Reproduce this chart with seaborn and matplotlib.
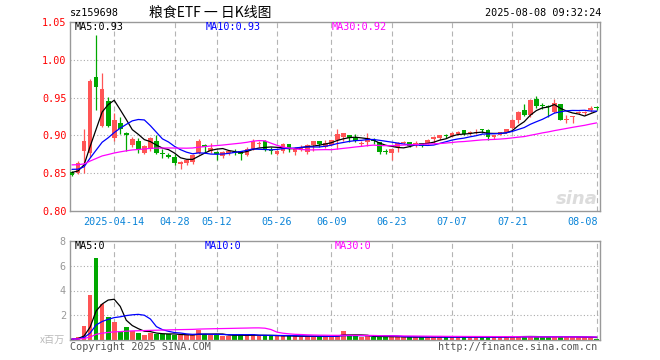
import numpy as np
import pandas as pd
import matplotlib
matplotlib.use('Agg')
import matplotlib.pyplot as plt
import matplotlib.transforms as mtransforms
import seaborn as sns

# ---------------- data ----------------
open_ = [0.852, 0.850, 0.880, 0.877, 0.9776, 0.913, 0.946, 0.896, 0.916, 0.903,
         0.887, 0.893, 0.877, 0.882, 0.893, 0.877, 0.874, 0.872, 0.862, 0.864,
         0.865, 0.877, 0.887, 0.879, 0.878, 0.873, 0.877, 0.878, 0.879, 0.874,
         0.8825, 0.888, 0.893, 0.880, 0.876, 0.8794, 0.888, 0.878, 0.881, 0.878,
         0.8877, 0.892, 0.8846, 0.887, 0.894, 0.8978, 0.901, 0.897, 0.888, 0.891,
         0.894, 0.891, 0.879, 0.877, 0.884, 0.890, 0.8908, 0.8873, 0.890, 0.8904,
         0.8947, 0.896, 0.8993, 0.8991, 0.9018, 0.907, 0.9033, 0.9026, 0.9072, 0.907,
         0.8974, 0.9004, 0.9039, 0.9092, 0.921, 0.9333, 0.9268, 0.9478, 0.9390, 0.9380,
         0.9311, 0.9421, 0.9208, 0.9237, 0.9295, 0.9295, 0.9333, 0.9370]
high = [0.853, 0.866, 0.909, 0.975, 1.033, 0.983, 0.951, 0.930, 0.924, 0.905,
        0.898, 0.897, 0.887, 0.898, 0.900, 0.882, 0.877, 0.876, 0.866, 0.869,
        0.876, 0.895, 0.888, 0.890, 0.879, 0.879, 0.881, 0.882, 0.880, 0.884,
        0.8956, 0.892, 0.8934, 0.884, 0.881, 0.890, 0.888, 0.885, 0.887, 0.888,
        0.892, 0.892, 0.894, 0.894, 0.908, 0.903, 0.901, 0.902, 0.893, 0.9035,
        0.897, 0.891, 0.882, 0.8816, 0.8917, 0.8925, 0.8908, 0.893, 0.890, 0.895,
        0.8996, 0.9004, 0.9018, 0.9048, 0.906, 0.907, 0.906, 0.908, 0.909, 0.9079,
        0.9004, 0.904, 0.909, 0.922, 0.932, 0.942, 0.9478, 0.952, 0.943, 0.940,
        0.9478, 0.9421, 0.9268, 0.926, 0.9325, 0.9325, 0.9386, 0.939]
low = [0.846, 0.849, 0.850, 0.872, 0.933, 0.911, 0.911, 0.893, 0.902, 0.880,
       0.885, 0.877, 0.875, 0.880, 0.875, 0.870, 0.870, 0.861, 0.856, 0.861,
       0.862, 0.876, 0.877, 0.877, 0.867, 0.870, 0.874, 0.874, 0.867, 0.873,
       0.881, 0.885, 0.880, 0.876, 0.874, 0.877, 0.878, 0.8737, 0.879, 0.876,
       0.880, 0.885, 0.883, 0.886, 0.8816, 0.8925, 0.891, 0.8915, 0.8855, 0.8855,
       0.889, 0.876, 0.875, 0.8675, 0.8785, 0.888, 0.884, 0.885, 0.885, 0.888,
       0.8895, 0.8939, 0.896, 0.8974, 0.900, 0.9005, 0.901, 0.9018, 0.9035, 0.8939,
       0.8948, 0.900, 0.903, 0.908, 0.9158, 0.9254, 0.9246, 0.9368, 0.9355, 0.9237,
       0.929, 0.920, 0.9158, 0.9158, 0.928, 0.9268, 0.931, 0.934]
close = [0.848, 0.864, 0.892, 0.972, 0.9645, 0.962, 0.913, 0.921, 0.909, 0.900,
         0.895, 0.882, 0.886, 0.896, 0.877, 0.875, 0.872, 0.863, 0.865, 0.867,
         0.874, 0.893, 0.884, 0.883, 0.875, 0.878, 0.880, 0.877, 0.876, 0.8825,
         0.892, 0.889, 0.881, 0.879, 0.880, 0.889, 0.8825, 0.8825, 0.885, 0.887,
         0.892, 0.889, 0.890, 0.8934, 0.902, 0.903, 0.897, 0.8925, 0.889, 0.897,
         0.893, 0.878, 0.878, 0.8816, 0.8895, 0.8905, 0.8864, 0.8904, 0.886, 0.8939,
         0.8985, 0.900, 0.8990, 0.9035, 0.9048, 0.9013, 0.9037, 0.9048, 0.9068, 0.8974,
         0.9004, 0.9039, 0.908, 0.921, 0.9311, 0.9268, 0.9465, 0.9386, 0.9386, 0.9375,
         0.943, 0.921, 0.9212, 0.9259, 0.930, 0.930, 0.9368, 0.9366]
volume = [0.10, 0.22, 1.14, 3.62, 6.65, 2.90, 1.83, 1.46, 0.74, 1.06,
          0.74, 0.58, 0.43, 0.58, 0.48, 0.48, 0.48, 0.43, 0.37, 0.37,
          0.37, 0.77, 0.48, 0.40, 0.42, 0.35, 0.35, 0.40, 0.40, 0.35,
          0.45, 0.30, 0.40, 0.35, 0.30, 0.32, 0.30, 0.30, 0.28, 0.30,
          0.30, 0.28, 0.28, 0.30, 0.43, 0.74, 0.30, 0.30, 0.28, 0.30,
          0.25, 0.30, 0.25, 0.25, 0.27, 0.22, 0.24, 0.22, 0.23, 0.24,
          0.25, 0.24, 0.22, 0.25, 0.24, 0.23, 0.22, 0.24, 0.22, 0.25,
          0.22, 0.25, 0.28, 0.30, 0.30, 0.26, 0.28, 0.25, 0.24, 0.27,
          0.30, 0.26, 0.24, 0.22, 0.22, 0.21, 0.22, 0.12]
# closes / volumes of the 29 sessions before the window (inferred from MA lines)
pre_close = [0.858, 0.861, 0.859, 0.862, 0.860, 0.857, 0.861, 0.863, 0.860, 0.859,
             0.864, 0.867, 0.870, 0.868, 0.872, 0.869, 0.866, 0.868, 0.870, 0.866,
             0.862, 0.860, 0.858, 0.859, 0.857, 0.854, 0.852, 0.851, 0.850]
pre_volume = [0.09, 0.07, 0.08, 0.10, 0.08, 0.07, 0.09, 0.08, 0.06, 0.08,
              0.09, 0.07, 0.08, 0.10, 0.08, 0.07, 0.09, 0.08, 0.07, 0.08,
              0.09, 0.08, 0.07, 0.08, 0.09, 0.08, 0.07, 0.08, 0.09]
tick_idx = [7, 17, 24, 34, 43, 53, 63, 73, 87]
tick_labels = ['2025-04-14', '04-28', '05-12', '05-26', '06-09',
               '06-23', '07-07', '07-21', '08-08']
price_ticks = [0.80, 0.85, 0.90, 0.95, 1.00, 1.05]
vol_ticks = [2, 4, 6, 8]

# ---------------- derived ----------------
n = len(close)
idx = np.arange(n)
npre = len(pre_close)
cs = pd.Series(pre_close + close)
vs = pd.Series(pre_volume + volume)
ma5 = cs.rolling(5).mean().iloc[npre:].values
ma10 = cs.rolling(10).mean().iloc[npre:].values
ma30 = cs.rolling(30).mean().iloc[npre:].values
vma5 = vs.rolling(5).mean().iloc[npre:].values
vma10 = vs.rolling(10).mean().iloc[npre:].values
vma30 = vs.rolling(30).mean().iloc[npre:].values

UP = '#ff5555'
DOWN = '#00a800'
cols = [UP if c >= o else DOWN for o, c in zip(open_, close)]

sns.set_style('white')
MONO = ['DejaVu Sans Mono', 'Noto Sans CJK SC']
plt.rcParams['font.family'] = MONO
FS = 7.3

W, H = 660, 360
fig = plt.figure(figsize=(W / 100, H / 100), dpi=100)


def rect(l, t, r, b):
    return [l / W, 1 - b / H, (r - l) / W, (b - t) / H]


def fx(px):
    return px / W


def fy(py):
    return 1 - py / H


ax = fig.add_axes(rect(70, 22, 600, 211))
axv = fig.add_axes(rect(70, 241, 600, 340))
xl, xr = -0.33, 87.56

for a in (ax, axv):
    a.set_xlim(xl, xr)
    for s in a.spines.values():
        s.set_color('#999999')
        s.set_linewidth(1.0)
    for t in tick_idx:
        a.axvline(t, color='#b4b4b4', lw=0.8, ls=(0, (4.5, 3)), zorder=0.5)
    a.set_xticks([])

for y in price_ticks[1:-1]:
    ax.axhline(y, color='#aaaaaa', lw=0.8, ls=(0, (1, 2)), zorder=0.5)
for y in vol_ticks[:-1]:
    axv.axhline(y, color='#aaaaaa', lw=0.8, ls=(0, (1, 2)), zorder=0.5)

# candles
ax.vlines(idx, low, high, colors=cols, lw=0.9, zorder=2)
bottoms = [min(o, c) for o, c in zip(open_, close)]
heights = [max(abs(c - o), 0.0013) for o, c in zip(open_, close)]
ax.bar(idx, heights, bottom=bottoms, width=0.78, color=cols, lw=0, zorder=3)

# moving averages
for series, colr in ((ma5, 'black'), (ma10, '#0000ff'), (ma30, '#ff00ff')):
    sns.lineplot(x=idx, y=series, ax=ax, color=colr, lw=0.9, legend=False, zorder=4)

ax.set_ylim(0.80, 1.05)
ax.set_yticks(price_ticks)
ax.set_yticklabels(['%.2f' % v for v in price_ticks], color='#ff0000', fontsize=FS)
ax.tick_params(axis='y', length=0, pad=2.5)
ax.set_xlabel('')
ax.set_ylabel('')

# volume
axv.bar(idx, volume, width=0.78, color=cols, lw=0, zorder=2)
for series, colr in ((vma5, 'black'), (vma10, '#0000ff'), (vma30, '#ff00ff')):
    sns.lineplot(x=idx, y=series, ax=axv, color=colr, lw=0.9, legend=False, zorder=4)
axv.set_ylim(0, 8)
axv.set_yticks(vol_ticks)
axv.set_yticklabels([str(v) for v in vol_ticks], color='#999999', fontsize=FS)
axv.tick_params(axis='y', length=0, pad=3)
axv.set_xlabel('')
axv.set_ylabel('')

# date labels
trans = mtransforms.blended_transform_factory(ax.transData, fig.transFigure)
for k, (t, lab) in enumerate(zip(tick_idx, tick_labels)):
    ha = 'right' if k == len(tick_idx) - 1 else 'center'
    xx = t + 0.2 if ha == 'right' else t
    ax.text(xx, fy(222), lab, transform=trans, ha=ha, va='center',
            color='#0a84d8', fontsize=FS, clip_on=False)

# header
fig.text(fx(70), fy(13), 'sz159698', ha='left', va='center', fontsize=FS, color='black')
fig.text(fx(210), fy(13), '粮食ETF 一 日K线图', ha='center', va='center', fontsize=10,
         color='black', family=['Noto Sans CJK SC', 'DejaVu Sans'])
fig.text(fx(601), fy(13), '2025-08-08 09:32:24', ha='right', va='center', fontsize=FS,
         color='black')

# MA legends
fig.text(fx(75), fy(27), 'MA5:0.93', ha='left', va='center', fontsize=FS, color='black')
fig.text(fx(206), fy(27), 'MA10:0.93', ha='left', va='center', fontsize=FS, color='#0000ff')
fig.text(fx(332), fy(27), 'MA30:0.92', ha='left', va='center', fontsize=FS, color='#ff00ff')
fig.text(fx(75), fy(246), 'MA5:0', ha='left', va='center', fontsize=FS, color='black')
fig.text(fx(205), fy(246), 'MA10:0', ha='left', va='center', fontsize=FS, color='#0000ff')
fig.text(fx(335), fy(246), 'MA30:0', ha='left', va='center', fontsize=FS, color='#ff00ff')

# footer
fig.text(fx(65), fy(340), 'x百万', ha='right', va='center', fontsize=FS, color='#bbbbbb',
         family=['Noto Sans CJK SC', 'DejaVu Sans'])
fig.text(fx(70), fy(347), 'Copyright 2025 SINA.COM', ha='left', va='center', fontsize=FS,
         color='#555555')
fig.text(fx(597), fy(347), 'http://finance.sina.com.cn', ha='right', va='center', fontsize=FS,
         color='#555555')

# watermark
fig.text(fx(598), fy(199), 'sina', ha='right', va='center', fontsize=13, color='#dcdcdc',
         family=['DejaVu Sans'], style='italic', weight='bold')

fig.savefig('out.png', dpi=100)
